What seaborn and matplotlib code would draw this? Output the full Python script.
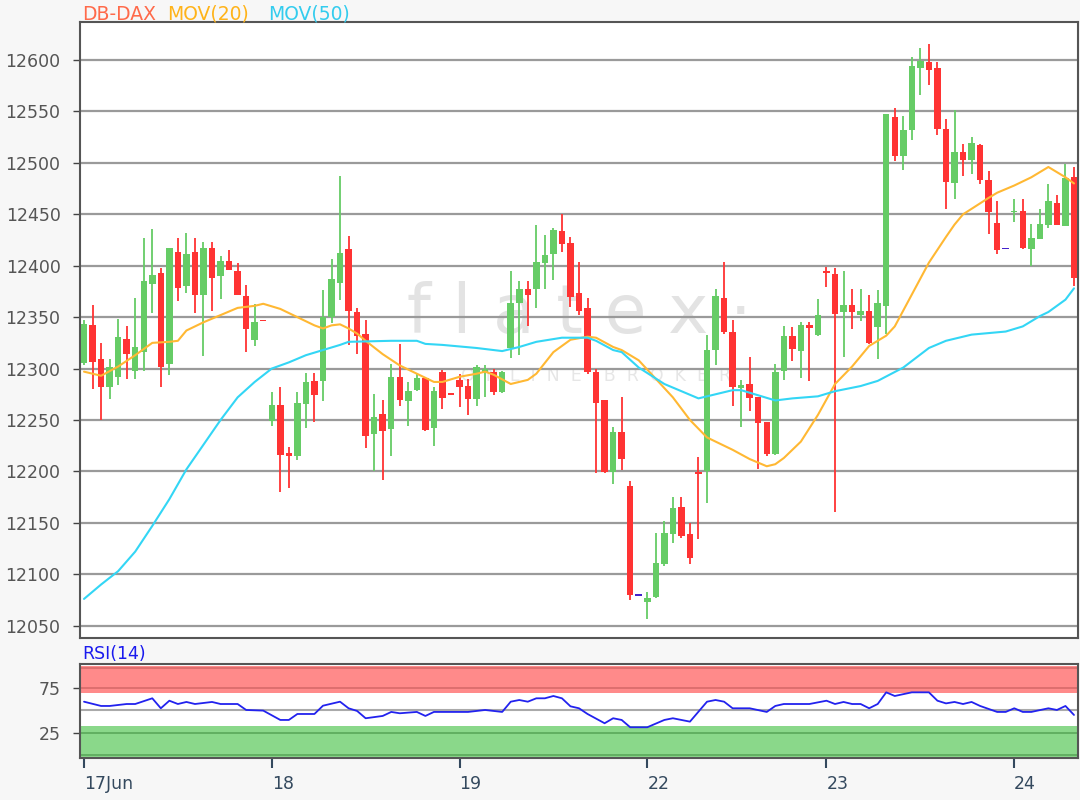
import numpy as np
import pandas as pd
import matplotlib
matplotlib.use("Agg")
import matplotlib.pyplot as plt
import seaborn as sns

# OHLC candles (one per bar, left to right)
opens = [12305, 12342, 12309, 12282, 12292, 12329, 12298, 12316, 12382, 12393,
         12304, 12413, 12380, 12413, 12372, 12417, 12390, 12405, 12395, 12371,
         12328, 12347, 12249, 12265, 12218, 12215, 12266, 12288, 12288, 12350,
         12383, 12416, 12355, 12334, 12236, 12256, 12241, 12292, 12268, 12279,
         12291, 12242, 12297, 12276, 12289, 12283, 12270, 12296, 12297, 12277,
         12320, 12364, 12377, 12377, 12403, 12411, 12434, 12422, 12373, 12359,
         12297, 12269, 12199, 12238, 12186, 12079, 12073, 12078, 12110, 12139,
         12165, 12139, 12199, 12200, 12318, 12369, 12336, 12281, 12285, 12272,
         12248, 12217, 12298, 12332, 12317, 12342, 12333, 12395, 12392, 12355,
         12362, 12352, 12356, 12340, 12361, 12545, 12507, 12532, 12592, 12598,
         12592, 12533, 12480, 12511, 12503, 12517, 12483, 12442, 12416, 12452,
         12453, 12416, 12426, 12440, 12461, 12439, 12486]
highs = [12347, 12362, 12325, 12309, 12348, 12341, 12369, 12427, 12436, 12398,
         12417, 12427, 12432, 12427, 12423, 12423, 12409, 12415, 12403, 12381,
         12363, 12347, 12277, 12282, 12224, 12277, 12296, 12296, 12376, 12407,
         12487, 12429, 12359, 12347, 12275, 12269, 12304, 12324, 12287, 12295,
         12292, 12282, 12299, 12276, 12295, 12290, 12303, 12303, 12300, 12298,
         12395, 12385, 12385, 12440, 12430, 12437, 12450, 12428, 12404, 12369,
         12300, 12269, 12243, 12272, 12191, 12079, 12083, 12140, 12152, 12175,
         12175, 12150, 12214, 12333, 12377, 12404, 12347, 12289, 12311, 12272,
         12248, 12304, 12341, 12340, 12345, 12345, 12368, 12399, 12398, 12395,
         12377, 12377, 12372, 12376, 12548, 12553, 12546, 12603, 12612, 12616,
         12598, 12543, 12551, 12518, 12525, 12518, 12492, 12463, 12416, 12465,
         12465, 12441, 12455, 12479, 12469, 12499, 12496]
lows = [12303, 12280, 12250, 12270, 12284, 12290, 12290, 12298, 12354, 12282,
        12294, 12366, 12373, 12354, 12312, 12356, 12368, 12396, 12372, 12316,
        12322, 12346, 12244, 12180, 12184, 12211, 12242, 12248, 12268, 12344,
        12367, 12323, 12314, 12223, 12200, 12192, 12215, 12264, 12244, 12278,
        12239, 12225, 12261, 12274, 12263, 12255, 12264, 12272, 12274, 12276,
        12310, 12313, 12341, 12359, 12377, 12386, 12413, 12360, 12352, 12295,
        12198, 12198, 12188, 12201, 12075, 12079, 12056, 12077, 12108, 12130,
        12135, 12110, 12134, 12169, 12303, 12334, 12264, 12243, 12259, 12202,
        12215, 12216, 12289, 12307, 12291, 12288, 12332, 12379, 12161, 12311,
        12338, 12346, 12324, 12309, 12334, 12502, 12493, 12522, 12566, 12576,
        12527, 12455, 12465, 12487, 12489, 12479, 12431, 12411, 12416, 12443,
        12416, 12400, 12426, 12437, 12440, 12439, 12380]
closes = [12343, 12306, 12282, 12302, 12331, 12314, 12321, 12385, 12391, 12302,
          12417, 12378, 12411, 12372, 12417, 12388, 12405, 12396, 12372, 12338,
          12345, 12346, 12265, 12216, 12215, 12267, 12287, 12274, 12350, 12387,
          12412, 12356, 12332, 12234, 12253, 12239, 12292, 12269, 12278, 12291,
          12240, 12278, 12271, 12274, 12282, 12270, 12302, 12300, 12277, 12297,
          12364, 12377, 12372, 12404, 12410, 12435, 12421, 12370, 12356, 12297,
          12267, 12199, 12238, 12212, 12080, 12079, 12077, 12111, 12140, 12164,
          12137, 12116, 12197, 12318, 12371, 12336, 12282, 12284, 12271, 12247,
          12217, 12297, 12332, 12319, 12342, 12339, 12352, 12393, 12353, 12362,
          12355, 12356, 12325, 12364, 12548, 12507, 12532, 12594, 12599, 12590,
          12533, 12481, 12511, 12503, 12519, 12483, 12452, 12415, 12416, 12453,
          12417, 12427, 12441, 12463, 12440, 12485, 12388]

# moving averages (bar index, value)
ma20_x = [0, 2, 4, 6, 8, 10, 11, 12, 14, 16, 18, 20, 21, 23, 25, 27, 28, 29, 30,
          31, 32, 33, 35, 37, 39, 41, 42, 44, 46, 47, 48, 50, 52, 53, 55, 57, 59,
          60, 62, 63, 65, 67, 69, 71, 73, 74, 76, 78, 80, 81, 82, 84, 86, 88, 90,
          92, 94, 95, 97, 99, 101, 102, 103, 106, 107, 109, 111, 113, 114, 115, 116]
ma20_y = [12297, 12293, 12302, 12313, 12325, 12326, 12327, 12337, 12345, 12352,
          12359, 12361, 12363, 12358, 12350, 12342, 12339, 12342, 12343, 12339,
          12334, 12327, 12314, 12303, 12295, 12287, 12287, 12292, 12295, 12297,
          12294, 12285, 12289, 12295, 12316, 12328, 12331, 12330, 12321, 12318,
          12308, 12290, 12272, 12250, 12233, 12229, 12221, 12212, 12205, 12207,
          12213, 12229, 12255, 12285, 12302, 12322, 12332, 12341, 12372, 12403,
          12428, 12440, 12450, 12466, 12471, 12478, 12486, 12496, 12491, 12486,
          12480]
ma50_x = [0, 2, 4, 6, 8, 10, 12, 14, 16, 18, 20, 22, 24, 26, 28, 30, 31, 36, 39,
          40, 42, 46, 49, 51, 53, 56, 59, 60, 62, 63, 65, 68, 70, 72, 74, 76, 77,
          79, 81, 83, 86, 88, 91, 93, 96, 99, 101, 103, 104, 108, 110, 112, 113,
          115, 116]
ma50_y = [12076, 12090, 12103, 12122, 12147, 12173, 12202, 12226, 12250, 12272,
          12287, 12300, 12306, 12313, 12318, 12323, 12326, 12327, 12327, 12324,
          12323, 12320, 12317, 12321, 12326, 12330, 12330, 12327, 12318, 12316,
          12301, 12285, 12278, 12271, 12275, 12279, 12279, 12274, 12269, 12271,
          12273, 12278, 12283, 12288, 12301, 12320, 12327, 12331, 12333, 12336,
          12341, 12351, 12355, 12367, 12378]

# RSI(14)
rsi_x = [0, 2, 3, 5, 6, 8, 9, 10, 11, 12, 13, 15, 16, 18, 19, 21, 23, 24, 25, 27,
         28, 30, 31, 32, 33, 35, 36, 37, 39, 40, 41, 45, 47, 49, 50, 51, 52, 53,
         54, 55, 56, 57, 58, 59, 61, 62, 63, 64, 66, 68, 69, 71, 72, 73, 74, 75,
         76, 78, 80, 81, 82, 85, 87, 88, 89, 90, 91, 92, 93, 94, 95, 97, 99, 100,
         101, 102, 103, 104, 105, 107, 108, 109, 110, 111, 113, 114, 115, 116]
rsi_y = [59.7, 54.9, 54.9, 57.1, 57.1, 63.5, 52.3, 60.8, 57.1, 59.4, 57.1, 59.4,
         57.1, 57.1, 50.4, 49.7, 39.2, 39.2, 45.9, 45.9, 55.2, 59.7, 52.3, 49.3,
         41.1, 43.7, 48.2, 46.7, 48.2, 43.7, 48.2, 48.2, 50.4, 48.2, 59.7, 61.6,
         59.7, 63.5, 63.5, 66.1, 63.5, 54.5, 52.3, 45.9, 35.5, 41.1, 39.2, 31.0,
         31.0, 39.2, 41.1, 37.3, 48.5, 59.7, 61.6, 59.7, 52.3, 52.3, 48.2, 54.9,
         57.1, 57.1, 60.8, 57.1, 59.4, 57.1, 57.1, 52.3, 57.1, 70.2, 66.1, 70.2,
         70.2, 60.8, 57.8, 59.4, 57.1, 59.4, 54.9, 48.2, 48.2, 52.3, 48.2, 48.2,
         52.3, 50.4, 54.9, 44.8]

day_pos = [0, 22, 44, 66, 87, 109]
day_labels = ["17Jun", "18", "19", "22", "23", "24"]
price_ticks = list(range(12050, 12601, 50))
rsi_ticks = [25, 75]

GREEN = "#66cc66"
RED = "#ff3333"
DOJI = "#4422cc"

sns.set_theme(style="white")
plt.rcParams['font.family'] = ['DejaVu Sans']

fig = plt.figure(figsize=(10.8, 8), dpi=100, facecolor="#f7f7f7")
ax = fig.add_axes([80 / 1080, 162 / 800, 998 / 1080, 616 / 800])
ax_rsi = fig.add_axes([80 / 1080, 42 / 800, 998 / 1080, 94 / 800])

df = pd.DataFrame({"open": opens, "high": highs, "low": lows, "close": closes})
df["idx"] = np.arange(len(df))
df["color"] = np.where(df.close > df.open, GREEN,
                       np.where(df.close < df.open, RED, DOJI))

# watermark
ax.text(58, 12335, "f l a t e x \u00b7", fontsize=49, color="#e3e3e3",
        ha="center", va="baseline", zorder=0)
ax.text(60, 12293, "O  N  L  I  N  E    B  R  O  K  E  R", fontsize=12.5,
        color="#e6e6e6", ha="center", va="center", zorder=0)

# candles
ax.vlines(df.idx, df.low, df.high, colors=df.color, lw=1.3, zorder=3)
body_lo = np.minimum(df.open, df.close)
body_h = np.maximum((df.close - df.open).abs(), 1.3)
ax.bar(df.idx, body_h, bottom=body_lo, width=0.76, color=df.color,
       linewidth=0, zorder=3)

sns.lineplot(x=ma20_x, y=ma20_y, ax=ax, color="#ffb833", lw=1.5,
             estimator=None, sort=False, zorder=4)
sns.lineplot(x=ma50_x, y=ma50_y, ax=ax, color="#33d6f5", lw=1.5,
             estimator=None, sort=False, zorder=4)

ax.set_xlim(-0.47, 116.47)
ax.set_ylim(12038, 12637)
ax.set_yticks(price_ticks)
ax.set_yticklabels([str(t) for t in price_ticks])
ax.set_xticks([])
ax.grid(axis="y", color="#9a9a9a", lw=1.6)
ax.grid(axis="x", visible=False)
ax.set_axisbelow(True)
ax.tick_params(axis="y", left=True, length=5, width=1, color="#444444",
               labelcolor="#555555", labelsize=12.5, pad=9)
for sp in ax.spines.values():
    sp.set_color("#555555")
    sp.set_linewidth(1.5)

# RSI panel
ax_rsi.axhspan(70, 100, color="#ff8a8a", lw=0, zorder=0)
ax_rsi.axhspan(-2, 32, color="#8ad88a", lw=0, zorder=0)
for lvl, c in [(98, "#d86a6a"), (75, "#d86a6a"), (25, "#5aa85a"), (0, "#5aa85a")]:
    ax_rsi.axhline(lvl, color=c, lw=1.2, zorder=1)
ax_rsi.axhline(50, color="#aaaaaa", lw=1.5, zorder=1)
sns.lineplot(x=rsi_x, y=rsi_y, ax=ax_rsi, color="#2222ee", lw=1.3,
             estimator=None, sort=False, zorder=3)
ax_rsi.set_xlim(-0.47, 116.47)
ax_rsi.set_ylim(-3.5, 102)
ax_rsi.set_yticks(rsi_ticks)
ax_rsi.set_yticklabels([str(t) for t in rsi_ticks])
ax_rsi.set_xticks(day_pos)
ax_rsi.set_xticklabels(day_labels, ha="left")
ax_rsi.grid(False)
ax_rsi.tick_params(axis="y", left=True, length=5, width=1, color="#444444",
                   labelcolor="#555555", labelsize=12.5, pad=9)
ax_rsi.tick_params(axis="x", bottom=True, length=7, width=1.5, color="#34495e",
                   labelcolor="#34495e", labelsize=12.5, pad=5)
for sp in ax_rsi.spines.values():
    sp.set_color("#555555")
    sp.set_linewidth(1.5)

# header texts
fig.text(82 / 1080, 1 - 14 / 800, "DB-DAX", color="#ff6a4a", fontsize=13.5, va="center")
fig.text(167 / 1080, 1 - 14 / 800, "MOV(20)", color="#ffb319", fontsize=13.5, va="center")
fig.text(268 / 1080, 1 - 14 / 800, "MOV(50)", color="#33ccee", fontsize=13.5, va="center")
fig.text(82 / 1080, 1 - 654 / 800, "RSI(14)", color="#1a1aee", fontsize=12.5, va="center")

fig.savefig("out.png", dpi=100, facecolor=fig.get_facecolor())
